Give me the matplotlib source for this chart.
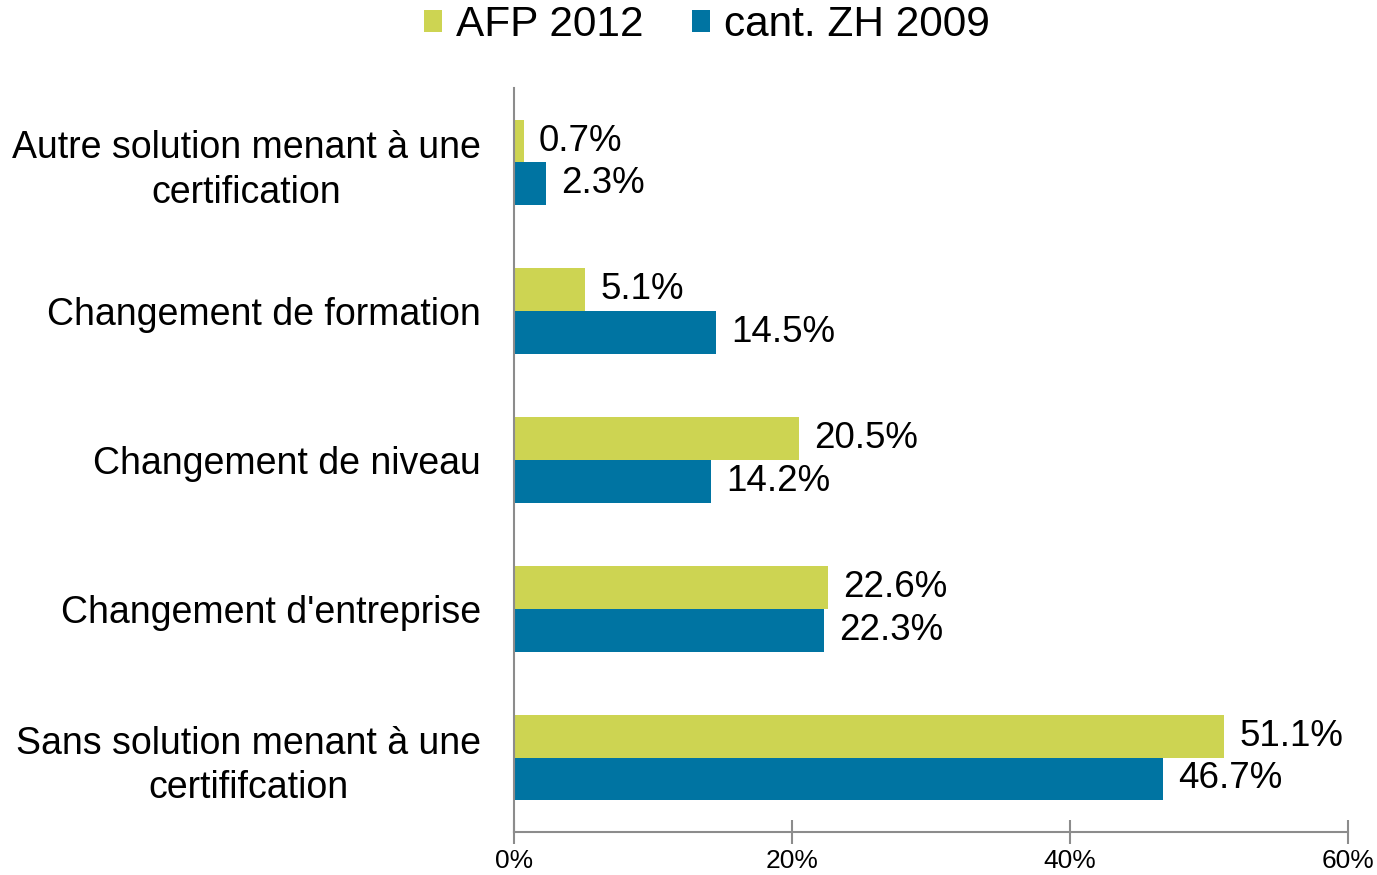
import matplotlib.pyplot as plt
import numpy as np
from matplotlib import font_manager

plt.rcParams['font.family'] = ['Liberation Sans', 'DejaVu Sans']

categories = ["Autre solution menant à une\ncertification",
              "Changement de formation",
              "Changement de niveau",
              "Changement d'entreprise",
              "Sans solution menant à une\ncertififcation"]
afp_2012 = [0.7, 5.1, 20.5, 22.6, 51.1]
zh_2009 = [2.3, 14.5, 14.2, 22.3, 46.7]
series_names = ["AFP 2012", "cant. ZH 2009"]
xticks = [0, 20, 40, 60]

c_afp = '#CDD452'
c_zh = '#0074A2'
gray = '#8C8C8C'

names = {f.name for f in font_manager.fontManager.ttflist}
tick_family = ['Liberation Sans Narrow', 'Liberation Sans'] if 'Liberation Sans Narrow' in names else ['Liberation Sans']

fig = plt.figure(figsize=(13.77, 8.75), dpi=100)
ax = fig.add_axes([514/1377, 1-832/875, (1348-514)/1377, (832-88)/875])

y = np.arange(len(categories))
h = 0.287
b1 = ax.barh(y - h/2, afp_2012, height=h, color=c_afp, label=series_names[0])
b2 = ax.barh(y + h/2, zh_2009, height=h, color=c_zh, label=series_names[1])

for bars, vals in ((b1, afp_2012), (b2, zh_2009)):
    for r, v in zip(bars, vals):
        ax.annotate(f"{v:.1f}%", (r.get_width(), r.get_y() + r.get_height()/2),
                    xytext=(11, 0), textcoords='offset points', va='center', ha='left',
                    fontsize=26.5, color='black')

ax.set_ylim(len(categories) - 0.5, -0.5)
ax.set_xlim(0, 60)
ax.set_yticks(y)
ax.set_yticklabels(categories, fontsize=27, ha='right', multialignment='center',
                   linespacing=1.3)
ax.tick_params(axis='y', length=0, pad=24)
ax.set_xticks(xticks)
ax.set_xticklabels([f"{t}%" for t in xticks], fontsize=19, family=tick_family)
ax.tick_params(axis='x', direction='inout', length=17, width=1.5, color=gray, pad=4)

for s in ('top', 'right'):
    ax.spines[s].set_visible(False)
for s in ('left', 'bottom'):
    ax.spines[s].set_color(gray)
    ax.spines[s].set_linewidth(1.5)

fig.legend(handles=[b1, b2], labels=series_names, loc='center', bbox_to_anchor=(707/1377, 1-25/875),
           ncol=2, frameon=False, fontsize=30.5, handlelength=0.43, handleheight=0.43,
           handletextpad=0.33, columnspacing=1.13)

fig.savefig('out.png', dpi=100)
